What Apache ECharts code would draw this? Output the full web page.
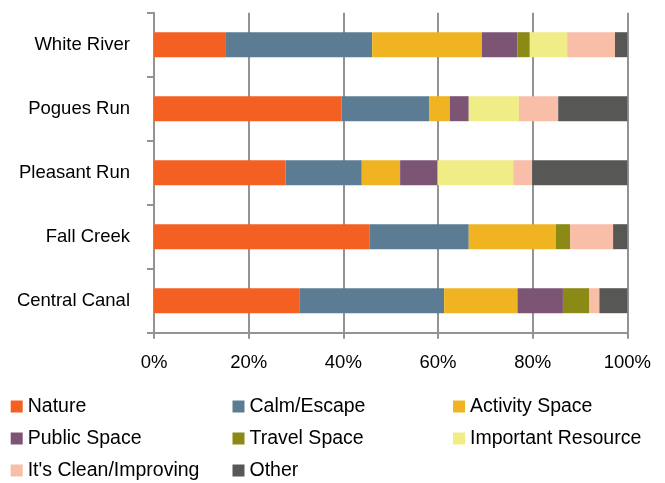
<!DOCTYPE html>
<html>
<head>
<meta charset="utf-8">
<script src="https://cdn.jsdelivr.net/npm/echarts@6/dist/echarts.min.js"></script>
<style>html,body{margin:0;padding:0;background:#fff;}#c{width:665px;height:483px;}</style>
</head>
<body>
<div id="c"></div>
<script>
var categories = ['Central Canal', 'Fall Creek', 'Pleasant Run', 'Pogues Run', 'White River'];
var seriesNames = ['Nature', 'Calm/Escape', 'Activity Space', 'Public Space', 'Travel Space', 'Important Resource', "It's Clean/Improving", 'Other'];
var nature     = [30.7, 45.5, 27.8, 39.6, 15.2];
var calm       = [30.6, 21.0, 16.1, 18.6, 30.9];
var activity   = [15.5, 18.4, 8.1, 4.3, 23.2];
var publicSp   = [9.6, 0, 7.9, 4.0, 7.5];
var travel     = [5.6, 3.0, 0, 0, 2.6];
var important  = [0, 0, 16.0, 10.6, 7.9];
var clean      = [2.1, 9.1, 4.0, 8.3, 10.1];
var other      = [5.9, 3.0, 20.1, 14.6, 2.6];
var xTicks = [0, 20, 40, 60, 80, 100];

var colors = ['#f45f22', '#5b7c93', '#f0b423', '#7d5574', '#8b8a14', '#f0ec86', '#f9bea7', '#575755'];
var values = [nature, calm, activity, publicSp, travel, important, clean, other];

var chart = echarts.init(document.getElementById('c'), null, {renderer: 'canvas'});
var font = '"Liberation Sans", Arial, sans-serif';
var series = seriesNames.map(function (n, i) {
  return {
    name: n, type: 'bar', stack: 'total', barWidth: 25,
    itemStyle: {color: colors[i]},
    data: values[i]
  };
});
function legend(left, names) {
  return {
    orient: 'vertical', left: left, top: 396.5, height: 100, padding: 0,
    itemWidth: 12, itemHeight: 12, itemGap: 12, icon: 'rect',
    textStyle: {fontFamily: font, fontSize: 19.5, color: '#000', lineHeight: 20},
    data: names
  };
}
chart.setOption({
  animation: false,
  color: colors,
  grid: {left: 154, right: 37.7, top: 12.7, bottom: 150.3, containLabel: false},
  xAxis: {
    type: 'value', min: 0, max: 100, interval: 20,
    axisLine: {show: true, lineStyle: {color: '#939393', width: 2}},
    axisTick: {show: true, length: 6, lineStyle: {color: '#939393', width: 2}},
    splitLine: {show: true, lineStyle: {color: '#939393', width: 2}},
    axisLabel: {
      margin: 20.5, fontFamily: font, fontSize: 18.5, color: '#000',
      formatter: function (v) { return xTicks.indexOf(v) >= 0 ? v + '%' : ''; }
    }
  },
  yAxis: {
    type: 'category', data: categories,
    axisLine: {show: true, lineStyle: {color: '#939393', width: 2}},
    axisTick: {show: true, length: 7, lineStyle: {color: '#939393', width: 2}},
    axisLabel: {margin: 24, fontFamily: font, fontSize: 18.5, color: '#000'}
  },
  legend: [
    legend(10.7, ['Nature', 'Public Space', "It's Clean/Improving"]),
    legend(232.5, ['Calm/Escape', 'Travel Space', 'Other']),
    legend(453, ['Activity Space', 'Important Resource'])
  ],
  series: series
});
</script>
</body>
</html>
